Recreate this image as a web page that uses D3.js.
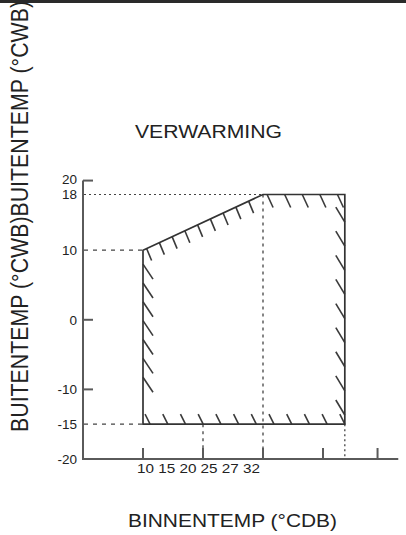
<!DOCTYPE html>
<html>
<head>
<meta charset="utf-8">
<script src="https://d3js.org/d3.v7.min.js"></script>
<style>
body { margin: 0; background: #fff; }
svg { display: block; font-family: "Liberation Sans", Arial, sans-serif; }
</style>
</head>
<body>
<svg id="chart" width="406" height="535"></svg>
<script>
// values
var yTicks = [20, 18, 10, 0, -10, -15, -20];
var yMarks = [20, 0, -10];            // plain short tick marks
var xTicks = [10, 21, 32, 43, 53];    // tick marks on the bottom axis
var xTickLabels = ["10", "15", "20", "25", "27", "32"];
var zone = [[10, -15], [10, 10], [32, 18], [47, 18], [47, -15]];
var guidesH = [[18, 32, "2,3"], [10, 10, "4,5"], [-15, 10, "4,5"]];   // [y, x end, dash]
var guidesV = [[32, 18, "3,4"], [21, -15, "3,4"], [47, -15, "2,3"]];  // [x, y top, dash]

var svg = d3.select("#chart");
var ink = "#333";

var x = d3.scaleLinear().domain([10, 32]).range([143, 263]);
var y = d3.scaleLinear().domain([-20, 18]).range([459, 194.5]);
var xMin = -1, xMax = 56.8;

// guide lines
svg.selectAll("line.gh").data(guidesH).enter().append("line")
  .attr("class", "gh")
  .attr("x1", x(xMin) + 1).attr("x2", d => x(d[1]))
  .attr("y1", d => y(d[0])).attr("y2", d => y(d[0]))
  .attr("stroke", "#444").attr("stroke-width", 1.2)
  .attr("stroke-dasharray", d => d[2]);

svg.selectAll("line.gv").data(guidesV).enter().append("line")
  .attr("class", "gv")
  .attr("x1", d => x(d[0])).attr("x2", d => x(d[0]))
  .attr("y1", d => y(d[1])).attr("y2", y(-20))
  .attr("stroke", "#444").attr("stroke-width", 1.3)
  .attr("stroke-dasharray", d => d[2]);

// axes
var axis = svg.append("g").attr("stroke", "#5a5a5a").attr("stroke-width", 2);
axis.append("line")
  .attr("x1", x(xMin)).attr("x2", x(xMin))
  .attr("y1", y(20)).attr("y2", y(-20) + 1);
axis.append("line")
  .attr("x1", x(xMin)).attr("x2", x(xMax))
  .attr("y1", y(-20)).attr("y2", y(-20));
axis.selectAll("line.ty").data(yMarks).enter().append("line")
  .attr("x1", x(xMin)).attr("x2", x(xMin) + 10)
  .attr("y1", d => y(d)).attr("y2", d => y(d));
axis.selectAll("line.tx").data(xTicks).enter().append("line")
  .attr("x1", d => x(d)).attr("x2", d => x(d))
  .attr("y1", y(-20) - 11).attr("y2", y(-20));

// tick labels
svg.selectAll("text.yl").data(yTicks).enter().append("text")
  .attr("class", "yl")
  .attr("x", 77)
  .attr("y", d => y(d) + (d === 20 ? -1.5 : 0))
  .attr("dy", "0.35em")
  .attr("text-anchor", "end")
  .attr("font-size", 13.5)
  .attr("fill", "#222")
  .text(d => d);

svg.append("text")
  .attr("x", 137).attr("y", 473)
  .attr("font-size", 13.5)
  .attr("fill", "#222")
  .attr("textLength", 123).attr("lengthAdjust", "spacingAndGlyphs")
  .text(xTickLabels.join(" "));

// hatches along each edge of the zone: [from, to, count, t0, t1, dx, dy]
var pts = zone.map(p => [x(p[0]), y(p[1])]);
var edges = [
  [pts[0], pts[1], 7, 0.27, 0.92, 10, 15],
  [pts[1], pts[2], 9, 0.03, 0.88, 5, 12],
  [pts[2], pts[3], 5, 0.05, 0.91, 6, 13],
  [pts[4], pts[3], 9, 0.04, 0.88, -9, -15],
  [pts[0], pts[4], 12, 0.035, 1.0, -5, -10]
];
var hatches = [];
edges.forEach(function(e) {
  d3.range(e[2]).forEach(function(i) {
    var t = e[3] + (e[4] - e[3]) * i / (e[2] - 1);
    var px = e[0][0] + (e[1][0] - e[0][0]) * t;
    var py = e[0][1] + (e[1][1] - e[0][1]) * t;
    hatches.push([px, py, px + e[5], py + e[6]]);
  });
});
svg.append("g").selectAll("line").data(hatches).enter().append("line")
  .attr("x1", d => d[0]).attr("y1", d => d[1])
  .attr("x2", d => d[2]).attr("y2", d => d[3])
  .attr("stroke", "#3a3a3a").attr("stroke-width", 1.6);

// zone outline
svg.append("path")
  .attr("d", d3.line()(pts) + "Z")
  .attr("fill", "none")
  .attr("stroke", ink)
  .attr("stroke-width", 1.7);

// titles
svg.append("text")
  .attr("x", 208.5).attr("y", 138)
  .attr("text-anchor", "middle")
  .attr("font-size", 18.5).attr("fill", "#222")
  .attr("textLength", 147).attr("lengthAdjust", "spacingAndGlyphs")
  .text("VERWARMING");

svg.append("text")
  .attr("x", 232.5).attr("y", 526.5)
  .attr("text-anchor", "middle")
  .attr("font-size", 18.5).attr("fill", "#222")
  .attr("textLength", 209).attr("lengthAdjust", "spacingAndGlyphs")
  .text("BINNENTEMP (°CDB)");

svg.append("text")
  .attr("transform", "translate(28,432) scale(1.12,1) rotate(-90)")
  .attr("font-size", 21).attr("fill", "#222")
  .attr("textLength", 431).attr("lengthAdjust", "spacingAndGlyphs")
  .text("BUITENTEMP (°CWB)BUITENTEMP (°CWB)");

// top rule
svg.append("rect")
  .attr("x", 0).attr("y", 0).attr("width", 406).attr("height", 3)
  .attr("fill", "#2a2a2a");
</script>
</body>
</html>
